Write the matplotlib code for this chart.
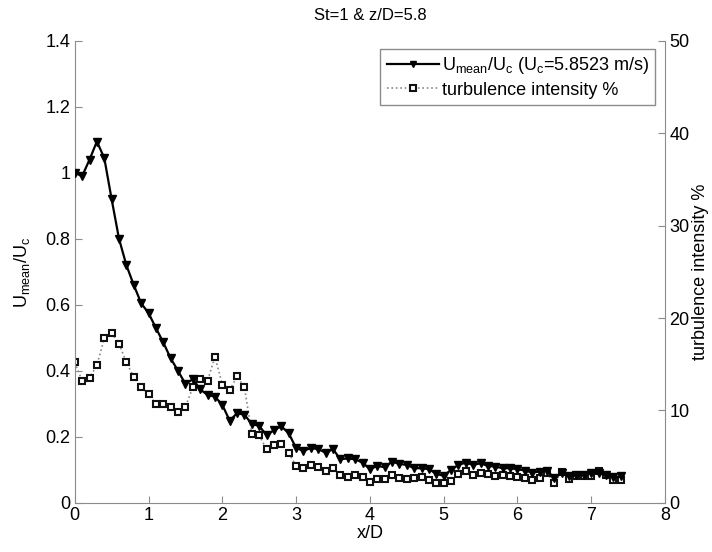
import numpy as np
import matplotlib
matplotlib.use("Agg")
import matplotlib.pyplot as plt
from matplotlib.ticker import FuncFormatter

plt.rcParams['font.family'] = ['Liberation Sans', 'DejaVu Sans']
plt.rcParams['mathtext.fontset'] = 'custom'
plt.rcParams['mathtext.rm'] = 'Liberation Sans'
plt.rcParams['mathtext.it'] = 'Liberation Sans'

# ---- data ----
x_over_D = [round(0.1 * i, 1) for i in range(75)]
u_mean_ratio = [
    1.00, 0.99, 1.04, 1.095, 1.045, 0.92, 0.80, 0.72, 0.66, 0.605,
    0.575, 0.53, 0.486, 0.438, 0.40, 0.36, 0.375, 0.344, 0.327, 0.322,
    0.297, 0.249, 0.272, 0.267, 0.239, 0.233, 0.205, 0.22, 0.232, 0.211,
    0.166, 0.158, 0.166, 0.163, 0.152, 0.163, 0.132, 0.135, 0.132, 0.122,
    0.102, 0.112, 0.108, 0.125, 0.118, 0.115, 0.105, 0.105, 0.102, 0.088,
    0.082, 0.100, 0.115, 0.122, 0.115, 0.120, 0.112, 0.110, 0.105, 0.105,
    0.102, 0.098, 0.092, 0.095, 0.098, 0.075, 0.090, 0.080, 0.085, 0.085,
    0.090, 0.092, 0.085, 0.078, 0.080,
]
turb_intensity = [
    15.2, 13.2, 13.5, 14.9, 17.8, 18.4, 17.2, 15.2, 13.6, 12.5,
    11.8, 10.7, 10.7, 10.4, 9.8, 10.4, 12.5, 13.4, 13.2, 15.8,
    12.8, 12.2, 13.7, 12.5, 7.4, 7.3, 5.8, 6.3, 6.4, 5.4,
    4.0, 3.75, 4.1, 3.9, 3.5, 3.75, 3.0, 2.85, 3.0, 2.8,
    2.3, 2.6, 2.6, 3.0, 2.7, 2.6, 2.7, 2.85, 2.5, 2.1,
    2.2, 2.4, 3.1, 3.4, 3.0, 3.2, 3.1, 2.9, 3.0, 2.9,
    2.8, 2.7, 2.5, 2.7, 3.2, 2.2, 3.3, 2.6, 2.9, 2.9,
    2.9, 3.5, 3.0, 2.5, 2.5,
]
x_ticks = [0, 1, 2, 3, 4, 5, 6, 7, 8]
left_ticks = [0, 0.2, 0.4, 0.6, 0.8, 1.0, 1.2, 1.4]
right_ticks = [0, 10, 20, 30, 40, 50]

title = "St=1 & z/D=5.8"
label_u = r"U$_{\rm mean}$/U$_{\rm c}$ (U$_{\rm c}$=5.8523 m/s)"
label_t = "turbulence intensity %"

fig = plt.figure(figsize=(7.12, 5.52), dpi=100)
ax = fig.add_axes([0.105, 0.089, 0.829, 0.837])
ax2 = ax.twinx()

axis_col = '#8c8c8c'
fs = 13

l1, = ax.plot(x_over_D, u_mean_ratio, '-', color='black', lw=1.6,
              marker='v', ms=6, mfc='black', mec='black', zorder=3)
l2, = ax2.plot(x_over_D, turb_intensity, ':', color='#888888', lw=1.2,
               marker='s', ms=4.8, mfc='white', mec='#111111', mew=1.5, zorder=2)

ax.set_xlim(0, 8)
ax.set_ylim(0, 1.4)
ax2.set_ylim(0, 50)
ax.set_xticks(x_ticks)
ax.set_yticks(left_ticks)
ax2.set_yticks(right_ticks)
ax.yaxis.set_major_formatter(FuncFormatter(lambda v, p: ('%g' % round(v, 1))))

for a in (ax, ax2):
    a.spines['top'].set_visible(False)
    for s in ('left', 'right', 'bottom'):
        a.spines[s].set_color(axis_col)
    a.tick_params(direction='in', length=5, color=axis_col, labelsize=fs, pad=3)
ax.spines['right'].set_visible(False)
ax2.spines['left'].set_visible(False)
ax2.spines['bottom'].set_visible(False)

ax.set_xlabel("x/D", fontsize=fs, labelpad=1)
ax.set_ylabel(r"U$_{\rm mean}$/U$_{\rm c}$", fontsize=fs, labelpad=10)
ax2.set_ylabel(label_t, fontsize=fs, labelpad=2)
ax.set_title(title, fontsize=12, pad=15)

leg = ax.legend([l1, l2], [label_u, label_t], loc='upper right',
                bbox_to_anchor=(0.99, 0.99), fontsize=fs, fancybox=False,
                framealpha=1, edgecolor=axis_col, handlelength=2.9,
                handletextpad=0.15, borderpad=0.35, labelspacing=0.3,
                markerscale=0.8, borderaxespad=0.2)
leg.get_frame().set_linewidth(1.0)
ax.set_zorder(ax2.get_zorder() + 1)
ax.patch.set_visible(False)

fig.savefig("out.png", dpi=100)
